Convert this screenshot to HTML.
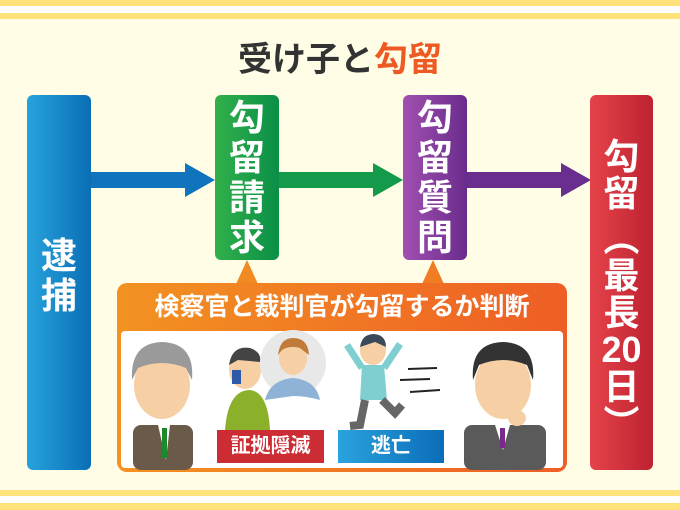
<!DOCTYPE html>
<html><head><meta charset="utf-8"><style>
body{margin:0;width:680px;height:510px;background:#fffde5;position:relative;overflow:hidden;font-family:"Liberation Sans","Noto Sans CJK JP",sans-serif}
.a{position:absolute}
.box{position:absolute;border-radius:6px;color:#fff;font-weight:bold;font-size:36px;text-align:center;line-height:40px;display:flex;flex-direction:column;justify-content:center}
</style></head><body>
<div class="a" style="left:0;top:0;width:680px;height:6px;background:#ffe27a"></div>
<div class="a" style="left:0;top:13px;width:680px;height:6px;background:#ffe27a"></div>
<div class="a" style="left:0;top:6px;width:680px;height:7px;background:#fff"></div>
<div class="a" style="left:0;top:490px;width:680px;height:6px;background:#ffe27a"></div>
<div class="a" style="left:0;top:496px;width:680px;height:7px;background:#fff"></div>
<div class="a" style="left:0;top:503px;width:680px;height:7px;background:#ffe27a"></div>
<div class="a" style="left:0;top:32px;width:680px;text-align:center;font-size:34px;font-weight:bold;color:#333">受け子と<span style="color:#ee5a24">勾留</span></div>
<svg class="a" style="left:0;top:0" width="680" height="510">
<polygon points="91,172 185,172 185,163 215,180 185,197 185,188 91,188" fill="#1273bd"/>
<polygon points="279,172 373,172 373,163 403,180 373,197 373,188 279,188" fill="#139a4a"/>
<polygon points="467,172 561,172 561,163 591,180 561,197 561,188 467,188" fill="#6a2f8e"/>
<defs><linearGradient id="og" x1="0" x2="1"><stop offset="0" stop-color="#f39222"/><stop offset="1" stop-color="#ee5e25"/></linearGradient></defs>
<polygon points="236,284 247,260 258,284" fill="#f28a22"/>
<polygon points="422,284 433,260 444,284" fill="#f07d24"/>
<rect x="117" y="283" width="450" height="189" rx="10" fill="url(#og)"/>
<rect x="121" y="331" width="442" height="137" rx="4" fill="#fff"/>
<rect x="133" y="425" width="60" height="45" rx="8" fill="#6a5a4a"/>
<polygon points="158,425 170,425 166,460" fill="#fff"/><rect x="162" y="428" width="5" height="30" fill="#1a8a2a"/>
<ellipse cx="162" cy="385" rx="28" ry="34" fill="#f6cfa5"/>
<path d="M132,380 Q130,343 162,342 Q195,343 192,380 L186,368 Q162,358 138,368Z" fill="#9a9a9a"/>
<path d="M225,430 Q228,390 250,390 Q268,392 270,430Z" fill="#8bb02a"/>
<ellipse cx="245" cy="370" rx="16" ry="19" fill="#f6cfa5"/>
<path d="M229,365 Q232,345 250,348 Q262,352 260,362 L238,360Z" fill="#444"/>
<rect x="232" y="370" width="9" height="14" fill="#2c5aa8"/>
<circle cx="293" cy="363" r="33" fill="#e8e8e8"/>
<path d="M265,400 Q270,380 293,378 Q316,380 320,400 Q306,396 293,396Z" fill="#8fb3d6"/>
<ellipse cx="293" cy="358" rx="14" ry="17" fill="#f6cfa5"/>
<path d="M278,355 Q280,338 293,338 Q308,338 309,355 L300,348 Q290,345 282,350Z" fill="#c07a3a"/>
<ellipse cx="373" cy="350" rx="13" ry="15" fill="#f6cfa5"/>
<path d="M360,347 Q362,334 374,334 Q386,335 386,347 L375,342Z" fill="#3b4a5a"/>
<path d="M362,365 L384,365 L387,400 L360,400Z" fill="#7fcfd0"/>
<path d="M362,368 L347,345 M384,368 L400,344" stroke="#7fcfd0" stroke-width="7"/>
<path d="M365,400 L360,425 L350,426 M382,400 L395,413 L402,405" stroke="#666" stroke-width="8" fill="none"/>
<path d="M408,369 L437,368 M400,380 L430,379 M410,392 L440,390" stroke="#222" stroke-width="2"/>
<rect x="464" y="425" width="82" height="45" rx="8" fill="#5a5a5a"/>
<polygon points="495,425 510,425 503,450" fill="#fff"/><rect x="500" y="428" width="5" height="20" fill="#7a2a8a"/>
<ellipse cx="503" cy="385" rx="28" ry="34" fill="#f6cfa5"/>
<path d="M473,380 Q470,343 503,342 Q536,343 533,380 L527,365 Q503,355 479,365Z" fill="#333"/>
<ellipse cx="517" cy="418" rx="9" ry="8" fill="#f6cfa5"/>
</svg>
<div class="a" style="left:117px;top:286px;width:450px;text-align:center;color:#fff;font-size:25px;font-weight:bold;line-height:42px">検察官と裁判官が勾留するか判断</div>
<div class="a" style="left:217px;top:430px;width:107px;height:33px;background:#cc2d35;color:#fff;font-size:20px;font-weight:bold;text-align:center;line-height:33px">証拠隠滅</div>
<div class="a" style="left:338px;top:430px;width:106px;height:33px;background:linear-gradient(90deg,#2aa3dd,#0b6db8);color:#fff;font-size:20px;font-weight:bold;text-align:center;line-height:33px">逃亡</div>
<div class="box" style="left:27px;top:95px;width:64px;height:375px;background:linear-gradient(90deg,#27a3dd,#0a6eb5)"><div style="margin-top:-14px">逮</div><div>捕</div></div>
<div class="box" style="left:215px;top:95px;width:64px;height:165px;background:linear-gradient(90deg,#32b04a,#0a8f48)"><div>勾</div><div>留</div><div>請</div><div>求</div></div>
<div class="box" style="left:403px;top:95px;width:64px;height:165px;background:linear-gradient(90deg,#a050b0,#6a2c8c)"><div>勾</div><div>留</div><div>質</div><div>問</div></div>
<div class="box" style="left:590px;top:95px;width:63px;height:375px;line-height:37px;background:linear-gradient(90deg,#e5434a,#bd2230)"><div style="margin-top:14px">勾</div><div>留</div><div style="height:8px"></div><div>︵</div><div>最</div><div>長</div><div>20</div><div>日</div><div>︶</div></div>
</body></html>
